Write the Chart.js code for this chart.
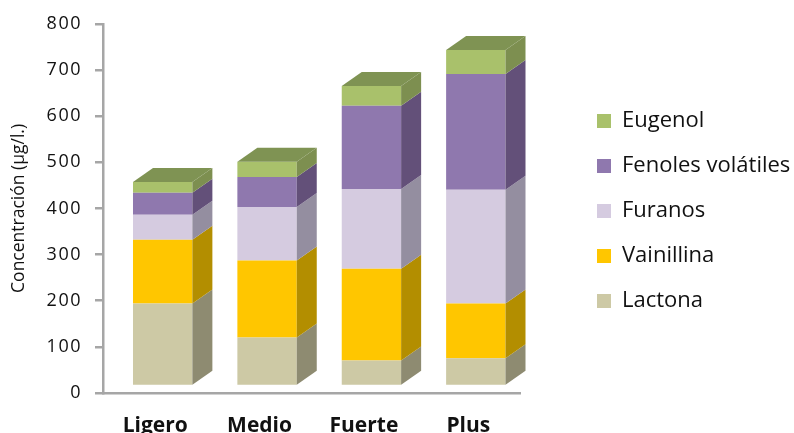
<!DOCTYPE html>
<html lang="es">
<head>
<meta charset="utf-8">
<title>Concentración por categoría</title>
<script src="https://cdn.jsdelivr.net/npm/chart.js@4"></script>
<style>
  html, body { margin: 0; padding: 0; background: #fff; overflow: hidden; }
  canvas { display: block; }
</style>
</head>
<body>
<canvas id="chart" width="794" height="433"></canvas>
<script>
const categories = ["Ligero", "Medio", "Fuerte", "Plus"];
const lactona = [179, 105, 55, 60];
const vainillina = [138, 167, 199, 119];
const furanos = [54, 116, 173, 246];
const fenoles = [48, 65, 180, 251];
const eugenol = [23, 33, 43, 52];

const frontColors = ["#CDC9A5", "#FFC600", "#D5CBE0", "#8F78AE", "#A9C16B"];
const sideColors = ["#8E8B71", "#B38E00", "#948EA0", "#635079", "#7D8F50"];
const topColor = "#7F9353";

// la cara frontal queda desplazada respecto al eje, como en el 3D de Excel
const FRONT_DX = 7.5;
const FRONT_DY = -7;
const DEPTH_X = 20;
const DEPTH_Y = -14;

function face(ctx, pts, color) {
  ctx.fillStyle = color;
  ctx.beginPath();
  pts.forEach((p, i) => (i ? ctx.lineTo(p[0], p[1]) : ctx.moveTo(p[0], p[1])));
  ctx.closePath();
  ctx.fill();
}

const depthBars = {
  id: "depthBars",
  afterLayout(chart) {
    // leyenda fuera del hueco que deja el area de la grafica
    const legend = chart.legend;
    legend.left = 574;
    legend.right = 794;
    legend.top = 87;

    // digitos mas separados en el eje Y
    const y = chart.scales.y;
    if (!y._spaced) {
      const drawLabels = y.drawLabels;
      y.drawLabels = function (area) {
        chart.ctx.letterSpacing = "1.5px";
        drawLabels.call(this, area);
        chart.ctx.letterSpacing = "0px";
      };
      y._spaced = true;
    }
  },
  beforeDatasetsDraw(chart) {
    chart.ctx.save();
    chart.ctx.translate(FRONT_DX, FRONT_DY);
  },
  afterDatasetsDraw(chart) {
    const ctx = chart.ctx;
    chart.data.datasets.forEach((ds, d) => {
      chart.getDatasetMeta(d).data.forEach((bar) => {
        const right = bar.x + bar.width / 2;
        const left = bar.x - bar.width / 2;
        face(ctx, [
          [right, bar.y],
          [right + DEPTH_X, bar.y + DEPTH_Y],
          [right + DEPTH_X, bar.base + DEPTH_Y],
          [right, bar.base],
        ], sideColors[d]);
        if (d === chart.data.datasets.length - 1) {
          face(ctx, [
            [left, bar.y],
            [left + DEPTH_X, bar.y + DEPTH_Y],
            [right + DEPTH_X, bar.y + DEPTH_Y],
            [right, bar.y],
          ], topColor);
        }
      });
    });
    ctx.restore();
  },
};

new Chart(document.getElementById("chart"), {
  type: "bar",
  plugins: [depthBars],
  data: {
    labels: categories,
    datasets: [
      { label: "Lactona", data: lactona, backgroundColor: frontColors[0] },
      { label: "Vainillina", data: vainillina, backgroundColor: frontColors[1] },
      { label: "Furanos", data: furanos, backgroundColor: frontColors[2] },
      { label: "Fenoles volátiles", data: fenoles, backgroundColor: frontColors[3] },
      { label: "Eugenol", data: eugenol, backgroundColor: frontColors[4] },
    ],
  },
  options: {
    responsive: false,
    animation: false,
    layout: { padding: { top: 23, right: 100, bottom: 0, left: 0 } },
    datasets: { bar: { categoryPercentage: 1, barPercentage: 0.569, borderWidth: 0 } },
    scales: {
      x: {
        stacked: true,
        afterFit(scale) { scale.height = 40; },
        border: { color: "#A6A6A6", width: 2.5 },
        grid: { display: false },
        ticks: {
          color: "#111",
          padding: 12,
          maxRotation: 0,
          font: { family: "'Open Sans'", size: 21, weight: "bold" },
        },
      },
      y: {
        stacked: true,
        min: 0,
        max: 800,
        afterFit(scale) { scale.width = 103; },
        border: { color: "#A6A6A6", width: 2.5 },
        grid: { drawOnChartArea: false, color: "#A6A6A6", lineWidth: 2.5, tickLength: 8 },
        ticks: {
          stepSize: 100,
          color: "#111",
          padding: 13,
          font: { family: "'Open Sans'", size: 18 },
        },
        title: {
          display: true,
          text: "Concentración (µg/l.)",
          color: "#111",
          padding: { top: 9, bottom: 0 },
          font: { family: "'Open Sans'", size: 17.5 },
        },
      },
    },
    plugins: {
      tooltip: { enabled: false },
      legend: {
        position: "right",
        align: "start",
        reverse: true,
        labels: {
          color: "#111",
          boxWidth: 14,
          boxHeight: 14,
          padding: 23,
          font: { family: "'Open Sans'", size: 22 },
        },
      },
    },
  },
});
</script>
</body>
</html>
